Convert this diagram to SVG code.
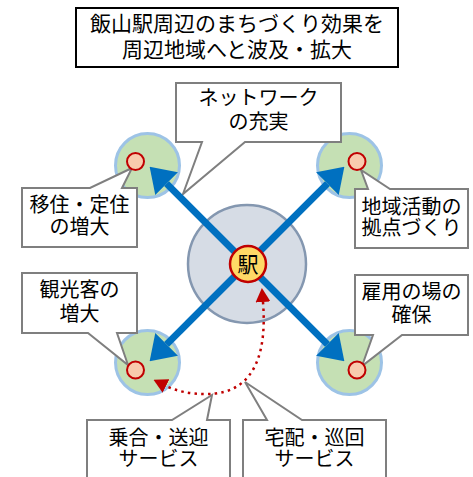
<svg xmlns="http://www.w3.org/2000/svg" width="473" height="477" viewBox="0 0 473 477">
<style>
text{font-family:"Noto Sans CJK JP","Noto Sans",sans-serif;fill:#000;text-anchor:middle}
.t{font-size:20px}
.ti{font-size:21px}
.green{fill:#C5E0B4;stroke:#9DC3E6;stroke-width:3}
.dot{fill:#F8CBAD;stroke:#C00000;stroke-width:2}
.call{fill:#fff;stroke:#7F7F7F;stroke-width:2;stroke-linejoin:miter}
.arr{stroke:#0070C0;stroke-width:7;fill:none;marker-end:url(#ab)}
</style>
<defs>
<marker id="ab" markerUnits="userSpaceOnUse" markerWidth="24" markerHeight="32" refX="0" refY="16" orient="auto" viewBox="0 0 24 32"><path d="M0 0 L24 16 L0 32 Z" fill="#0070C0"/></marker>
<marker id="ar" markerUnits="userSpaceOnUse" markerWidth="14" markerHeight="15" refX="0" refY="7.5" orient="auto-start-reverse" viewBox="0 0 14 15"><path d="M0 0 L14 7.5 L0 15 Z" fill="#C00000"/></marker>
</defs>
<rect width="473" height="477" fill="#fff"/>
<g id="title">
<rect x="76" y="8" width="322" height="59" fill="#fff" stroke="#000" stroke-width="2"/>
<text class="ti" x="237" y="31">飯山駅周辺のまちづくり効果を</text>
<text class="ti" x="237" y="57">周辺地域へと波及・拡大</text>
</g>
<g id="area-tl"><circle class="green" cx="147.5" cy="165.5" r="32"/></g>
<g id="area-tr"><circle class="green" cx="349.5" cy="165.5" r="32"/></g>
<g id="area-bl"><circle class="green" cx="147.5" cy="362.5" r="32"/></g>
<g id="area-br"><circle class="green" cx="349.5" cy="362.5" r="32"/></g>
<g id="center-area"><circle cx="247" cy="264" r="59" fill="#D6DCE5" stroke="#8497B0" stroke-width="2.5"/></g>
<g id="callout-network">
<path class="call" d="M176 83 H341 V142 H245 L183 194 L202 142 H176 Z"/>
<text class="t" x="258.5" y="105">ネットワーク</text>
<text class="t" x="258.5" y="129">の充実</text>
</g>
<g id="callout-ijuu">
<path class="call" d="M22 188 H90 L132 168 L122 188 H137 V247 H22 Z"/>
<text class="t" x="79.5" y="211.5">移住・定住</text>
<text class="t" x="79.5" y="233.5">の増大</text>
</g>
<g id="callout-chiiki">
<path class="call" d="M355 189 H368 L361 170 L390 189 H468 V248 H355 Z"/>
<text class="t" x="411.5" y="213.5">地域活動の</text>
<text class="t" x="411.5" y="234.5">拠点づくり</text>
</g>
<g id="callout-kankou">
<path class="call" d="M22 273 H137 V333 H117 L128 365 L88 333 H22 Z"/>
<text class="t" x="79.5" y="296.5">観光客の</text>
<text class="t" x="79.5" y="320.5">増大</text>
</g>
<g id="callout-koyou">
<path class="call" d="M355 275 H468 V335 H402 L362 366 L373 335 H355 Z"/>
<text class="t" x="411.5" y="298.5">雇用の場の</text>
<text class="t" x="411.5" y="321.5">確保</text>
</g>
<g id="callout-noriai">
<path class="call" d="M87 420 H172 L212 395 L207 420 H230 V490 H87 Z"/>
<text class="t" x="158.5" y="444.5">乗合・送迎</text>
<text class="t" x="158.5" y="466">サービス</text>
</g>
<g id="callout-takuhai">
<path class="call" d="M243 420 H267 L245 382 L302 420 H386 V490 H243 Z"/>
<text class="t" x="314.5" y="444.5">宅配・巡回</text>
<text class="t" x="314.5" y="466">サービス</text>
</g>
<g id="connectors">
<path class="arr" d="M247 264 L166.6 183.6"/>
<path class="arr" d="M247 264 L327.4 183.6"/>
<path class="arr" d="M247 264 L166.6 344.4"/>
<path class="arr" d="M247 264 L327.4 344.4"/>
<path d="M263 302 C266 340 262 395 205 394 C190 394 176 391 166 386" fill="none" stroke="#C00000" stroke-width="2.5" stroke-dasharray="2.5 4.2" marker-start="url(#ar)" marker-end="url(#ar)"/>
</g>
<g id="station">
<circle cx="248" cy="264" r="18" fill="#FFD966" stroke="#C00000" stroke-width="2.5"/>
<text x="248" y="272" style="font-size:21px">駅</text>
</g>
<g id="points">
<circle class="dot" cx="135.5" cy="161.5" r="8.5"/>
<circle class="dot" cx="357" cy="161.5" r="8.5"/>
<circle class="dot" cx="135.5" cy="370" r="8.5"/>
<circle class="dot" cx="357" cy="370" r="8.5"/>
</g>
</svg>
